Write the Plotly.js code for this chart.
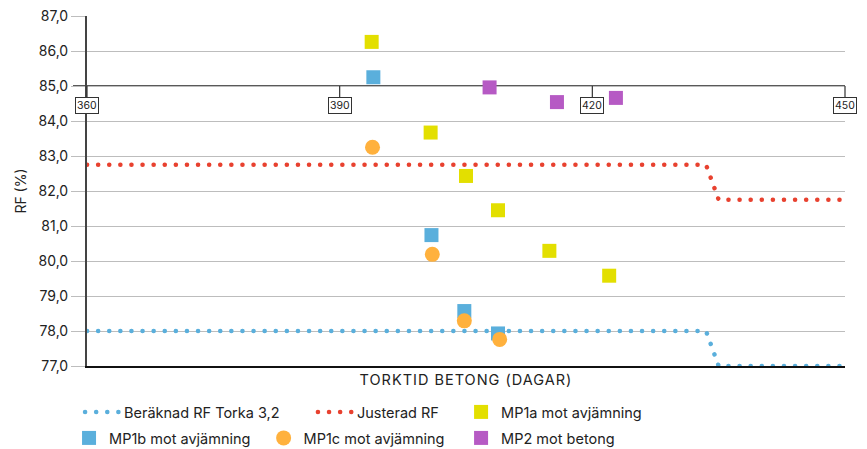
<!DOCTYPE html>
<html>
<head>
<meta charset="utf-8">
<script src="https://cdn.plot.ly/plotly-3.0.1.min.js"></script>
<style>
  html, body { margin: 0; padding: 0; background: #fff; }
  #chart { width: 867px; height: 449px; }
  .js-line { stroke-linecap: round !important; }
  .xtitle { letter-spacing: 1px; }
</style>
</head>
<body>
<div id="chart"></div>
<script>
// ---- data ----
const days = [360, 433.5, 435, 450];
const beraknadRF = [78, 78, 77, 77];
const justeradRF = [82.75, 82.75, 81.75, 81.75];

const mp1aX = [393.8, 400.8, 405.0, 408.8, 414.9, 422.0];
const mp1aY = [86.26, 83.67, 82.43, 81.45, 80.29, 79.58];

const mp1bX = [394.0, 400.9, 404.8, 408.8];
const mp1bY = [85.25, 80.74, 78.57, 77.93];

const mp1cX = [393.9, 401.0, 404.8, 409.0];
const mp1cY = [83.25, 80.19, 78.29, 77.76];

const mp2X = [407.8, 415.8, 422.8];
const mp2Y = [84.96, 84.54, 84.66];

const xTickVals = [360, 390, 420, 450];
const xCrossY = 85;

const names = ['Beräknad RF Torka 3,2', 'Justerad RF', 'MP1a mot avjämning',
               'MP1b mot avjämning', 'MP1c mot avjämning', 'MP2 mot betong'];

// ---- styles ----
const C = { blue: '#5aafdc', red: '#e8412f', yellow: '#e3df00', orange: '#ffb13d', purple: '#b65ac4' };
const DOT = '0.1px,11px';
const FONT = 'Inter, Roboto, "Noto Sans", sans-serif';

const traces = [
  { x: days, y: beraknadRF, name: names[0], mode: 'lines', legend: 'legend',
    line: { color: C.blue, width: 4.5, dash: DOT } },
  { x: days, y: justeradRF, name: names[1], mode: 'lines', legend: 'legend2',
    line: { color: C.red, width: 4.5, dash: DOT } },
  { x: mp1aX, y: mp1aY, name: names[2], mode: 'markers', legend: 'legend3',
    marker: { symbol: 'square', size: 14, color: C.yellow } },
  { x: mp1bX, y: mp1bY, name: names[3], mode: 'markers', legend: 'legend4',
    marker: { symbol: 'square', size: 14, color: C.blue } },
  { x: mp1cX, y: mp1cY, name: names[4], mode: 'markers', legend: 'legend5',
    marker: { symbol: 'circle', size: 15, color: C.orange } },
  { x: mp2X, y: mp2Y, name: names[5], mode: 'markers', legend: 'legend6',
    marker: { symbol: 'square', size: 14, color: C.purple } }
];

function leg(x, y, w) {
  return { x: x, y: y, xanchor: 'left', yanchor: 'middle', orientation: 'v',
           bgcolor: 'rgba(0,0,0,0)', borderwidth: 0, itemwidth: w,
           font: { family: FONT, size: 14.5, color: '#222' } };
}

const annotations = xTickVals.map(v => ({
  x: v, y: xCrossY, xref: 'x', yref: 'y', text: String(v),
  showarrow: true, arrowhead: 0, arrowwidth: 1.2, arrowcolor: '#333',
  ax: 0, ay: 19, standoff: 0,
  font: { family: FONT, size: 10.5, color: '#222' },
  bordercolor: '#333', borderwidth: 1, borderpad: 1, bgcolor: '#fff'
}));

const layout = {
  width: 867, height: 449,
  margin: { l: 87, r: 22, t: 16, b: 83, autoexpand: false },
  paper_bgcolor: '#fff', plot_bgcolor: '#fff',
  separators: ', ',
  font: { family: FONT, size: 14, color: '#222' },
  showlegend: true,
  xaxis: {
    range: [360, 450], showgrid: false, zeroline: false,
    showticklabels: false, ticks: '',
    showline: true, linecolor: '#111', linewidth: 2,
    title: { text: 'TORKTID BETONG (DAGAR)', font: { family: FONT, size: 14.5, color: '#222' }, standoff: 8 }
  },
  yaxis: {
    range: [77, 87], dtick: 1, tick0: 77, tickformat: '.1f',
    showgrid: true, gridcolor: '#bdbdbd', gridwidth: 1, zeroline: false,
    ticks: 'outside', ticklen: 14, tickcolor: '#bdbdbd', tickwidth: 1,
    showline: true, linecolor: '#444', linewidth: 2,
    tickfont: { family: FONT, size: 14, color: '#222' },
    title: { text: 'RF (%)', font: { family: FONT, size: 14, color: '#222' }, standoff: 9 }
  },
  shapes: [
    { type: 'line', xref: 'paper', yref: 'y', x0: -0.0185, x1: 1, y0: xCrossY, y1: xCrossY,
      layer: 'between', line: { color: '#222', width: 1.5 } }
  ],
  annotations: annotations,
  legend:  leg(-0.0092, -0.1314, 34),
  legend2: leg(0.298, -0.1314, 34),
  legend3: leg(0.4935, -0.1314, 30),
  legend4: leg(-0.0237, -0.2057, 30),
  legend5: leg(0.233, -0.2057, 30),
  legend6: leg(0.4935, -0.2057, 30)
};

Plotly.newPlot('chart', traces, layout, { displayModeBar: false, staticPlot: true });
</script>
</body>
</html>
